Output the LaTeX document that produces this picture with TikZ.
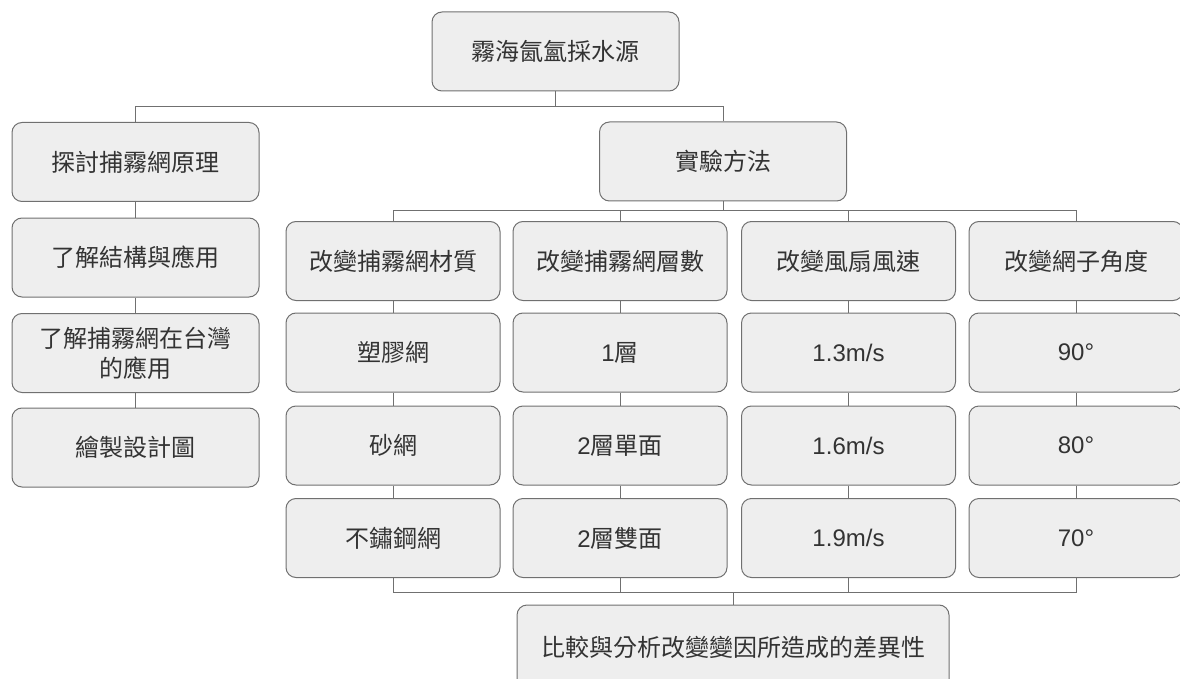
\documentclass[tikz,border=0pt]{standalone}
\usepackage{fontspec}
\setmainfont{Liberation Sans}
\newfontfamily\cjk{Noto Sans CJK TC}
\newfontfamily\lat{Liberation Sans}
\definecolor{boxfill}{HTML}{EEEEEE}
\definecolor{boxline}{HTML}{707070}
\definecolor{txt}{HTML}{333333}
\begin{document}
\begin{tikzpicture}[x=1pt,y=-1pt,
  box/.style={draw=boxline,fill=boxfill,rounded corners=10pt,line width=1pt,
    text=txt,font=\fontsize{24}{30}\selectfont\cjk,align=center,inner sep=0pt,
    minimum height=79pt},
  wbox/.style={box,minimum width=247pt},
  mbox/.style={box,minimum width=214pt},
  link/.style={draw=boxline,line width=1pt}]
\useasboundingbox (0,0) rectangle (1180,679);
% top
\node[wbox] (top) at (555.5,51.5) {霧海氤氳採水源};
% left column
\node[wbox] (L1) at (135.5,162) {探討捕霧網原理};
\node[wbox] (L2) at (135.5,257.5) {了解結構與應用};
\node[wbox] (L3) at (135.5,353) {了解捕霧網在台灣\\的應用};
\node[wbox] (L4) at (135.5,447.5) {繪製設計圖};
% method
\node[wbox] (M) at (723,161.5) {實驗方法};
% middle columns
\node[mbox] (A1) at (393,261) {改變捕霧網材質};
\node[mbox] (A2) at (393,352.5) {塑膠網};
\node[mbox] (A3) at (393,445.5) {砂網};
\node[mbox] (A4) at (393,538) {不鏽鋼網};
\node[mbox] (B1) at (620,261) {改變捕霧網層數};
\node[mbox] (B2) at (620,352.5) {{\lat 1}層};
\node[mbox] (B3) at (620,445.5) {{\lat 2}層單面};
\node[mbox] (B4) at (620,538) {{\lat 2}層雙面};
\node[mbox] (C1) at (848.5,261) {改變風扇風速};
\node[mbox] (C2) at (848.5,352.5) {\lat 1.3m/s};
\node[mbox] (C3) at (848.5,445.5) {\lat 1.6m/s};
\node[mbox] (C4) at (848.5,538) {\lat 1.9m/s};
\node[mbox] (D1) at (1076,261) {改變網子角度};
\node[mbox] (D2) at (1076,352.5) {\lat 90°};
\node[mbox] (D3) at (1076,445.5) {\lat 80°};
\node[mbox] (D4) at (1076,538) {\lat 70°};
% final
\node[box,minimum width=432pt,minimum height=84pt] (F) at (733,647) {比較與分析改變變因所造成的差異性};
% bus coordinates
\coordinate (bus1) at (0,106.5);
\coordinate (bus2) at (0,211);
\coordinate (bus3) at (0,592);
% connectors
\draw[link] (top.south) -- (top.south |- bus1) -| (L1.north);
\draw[link] (top.south |- bus1) -| (M.north);
\draw[link] (L1) -- (L2);
\draw[link] (L2) -- (L3);
\draw[link] (L3) -- (L4);
\draw[link] (M.south) -- (M.south |- bus2);
\draw[link] (A1.north) |- (bus2 -| D1.north) -- (D1.north);
\draw[link] (B1.north) -- (B1.north |- bus2);
\draw[link] (C1.north) -- (C1.north |- bus2);
\foreach \c in {A,B,C,D}{
  \draw[link] (\c1) -- (\c2);
  \draw[link] (\c2) -- (\c3);
  \draw[link] (\c3) -- (\c4);
}
\draw[link] (A4.south) |- (bus3 -| D4.south) -- (D4.south);
\draw[link] (B4.south) -- (B4.south |- bus3);
\draw[link] (C4.south) -- (C4.south |- bus3);
\draw[link] (F.north |- bus3) -- (F.north);
\end{tikzpicture}
\end{document}
